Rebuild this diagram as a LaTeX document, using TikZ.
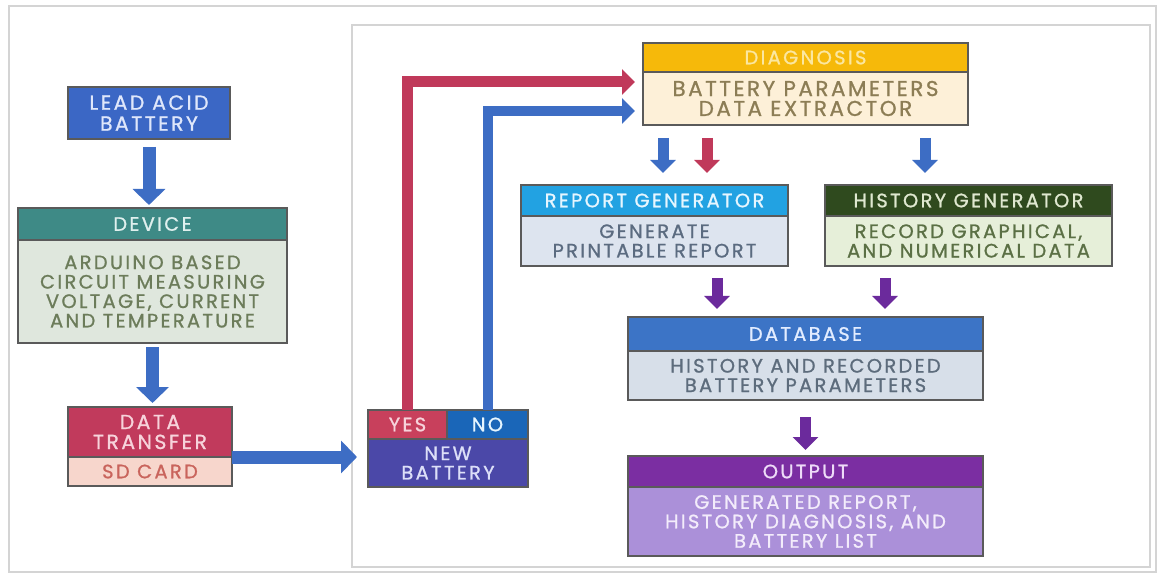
\documentclass[tikz,border=0pt]{standalone}
\usepackage{fontspec}
\setmainfont{Poppins}
\newfontfamily\boxface{Poppins}[LetterSpace=12, FakeBold=1]
\usepackage{tikz}
\usetikzlibrary{arrows.meta, positioning}

\definecolor{framegray}{HTML}{D4D4D4}
\definecolor{edgegray}{HTML}{5A5A5A}
\definecolor{arrowblue}{HTML}{3D6DC4}
\definecolor{arrowred}{HTML}{C0395A}
\definecolor{arrowpurple}{HTML}{6B2A9C}
\definecolor{leadfill}{HTML}{3B67C5}
\definecolor{leadtxt}{HTML}{DFE7FB}
\definecolor{devhfill}{HTML}{3E8A86}
\definecolor{devhtxt}{HTML}{E0F0EE}
\definecolor{devbfill}{HTML}{DFE7DD}
\definecolor{devbtxt}{HTML}{6C7C5A}
\definecolor{dthfill}{HTML}{C13A5C}
\definecolor{dthtxt}{HTML}{F7D3DB}
\definecolor{dtbfill}{HTML}{F7D6CC}
\definecolor{dtbtxt}{HTML}{C9645C}
\definecolor{yesfill}{HTML}{C8405C}
\definecolor{nofill}{HTML}{1A66B8}
\definecolor{nbfill}{HTML}{4B48A8}
\definecolor{nbtxt}{HTML}{DCDFF8}
\definecolor{diaghfill}{HTML}{F6B90A}
\definecolor{diaghtxt}{HTML}{FBE7A0}
\definecolor{diagbfill}{HTML}{FDF0D8}
\definecolor{diagbtxt}{HTML}{8C7D55}
\definecolor{rephfill}{HTML}{22A2E2}
\definecolor{rephtxt}{HTML}{E6F6FF}
\definecolor{repbfill}{HTML}{DDE4EF}
\definecolor{repbtxt}{HTML}{5B6B80}
\definecolor{histhfill}{HTML}{2F4A1E}
\definecolor{histhtxt}{HTML}{DFE8D0}
\definecolor{histbfill}{HTML}{E6EFD9}
\definecolor{histbtxt}{HTML}{5B7045}
\definecolor{dbhfill}{HTML}{3C74C6}
\definecolor{dbhtxt}{HTML}{E2ECFF}
\definecolor{dbbfill}{HTML}{D7DFE9}
\definecolor{dbbtxt}{HTML}{5D6C7C}
\definecolor{outhfill}{HTML}{7B2EA2}
\definecolor{outhtxt}{HTML}{EEDCF8}
\definecolor{outbfill}{HTML}{AB90D9}
\definecolor{outbtxt}{HTML}{F3ECFB}

\newcommand{\boxfont}{\boxface\fontsize{19.5}{19.5}\selectfont}
\newcommand{\bigboxfont}{\boxface\fontsize{21.5}{20}\selectfont}

\begin{document}
\begin{tikzpicture}[
    x=1bp, y=-1bp,
    head/.style={rectangle, draw=edgegray, line width=1.4bp, inner sep=0pt, outer sep=0pt, align=center, font=\boxfont},
    body/.style={head},
    fat/.style={line width=13bp, -{Triangle[width=32bp, length=16bp]}},
    mid/.style={line width=11bp, -{Triangle[width=25bp, length=13bp]}},
]
\useasboundingbox[fill=white] (0,0) rectangle (1158,576);
\draw[framegray, line width=2bp] (9,6) rectangle (1156,572);
\draw[framegray, line width=2bp] (352,25) rectangle (1150,567);

\node[head, fill=leadfill, text=leadtxt, minimum width=162bp, minimum height=52bp, anchor=north west, font=\boxface\fontsize{20.5}{21}\selectfont] (lead) at (68,87) {LEAD ACID\\BATTERY};
\node[head, fill=devhfill, text=devhtxt, minimum width=269bp, minimum height=32bp, anchor=north west] (devhead) at (18,208) {DEVICE};
\node[body, fill=devbfill, text=devbtxt, minimum width=269bp, minimum height=103bp, below=0pt of devhead] (devbody) {ARDUINO BASED\\CIRCUIT MEASURING\\VOLTAGE, CURRENT\\AND TEMPERATURE};
\node[head, fill=dthfill, text=dthtxt, minimum width=164bp, minimum height=50bp, anchor=north west, font=\boxface\fontsize{20.5}{20}\selectfont] (dthead) at (68,407) {DATA\\TRANSFER};
\node[body, fill=dtbfill, text=dtbtxt, minimum width=164bp, minimum height=29bp, below=0pt of dthead] (dtbody) {SD CARD};

\node[head, fill=yesfill, text=dthtxt, minimum width=79bp, minimum height=29bp, anchor=north west] (yes) at (368,410) {YES};
\node[head, fill=nofill, text=rephtxt, minimum width=81bp, minimum height=29bp, right=0pt of yes] (no) {NO};
\node[body, fill=nbfill, text=nbtxt, minimum width=160bp, minimum height=48bp, below right=0pt and 0pt of yes.south west] (nbbody) {NEW\\BATTERY};

\node[head, fill=diaghfill, text=diaghtxt, minimum width=325bp, minimum height=29bp, anchor=north west] (diaghead) at (643,43) {DIAGNOSIS};
\node[body, fill=diagbfill, text=diagbtxt, minimum width=325bp, minimum height=53bp, below=0pt of diaghead, font=\bigboxfont] (diagbody) {BATTERY PARAMETERS\\DATA EXTRACTOR};
\node[head, fill=rephfill, text=rephtxt, minimum width=267bp, minimum height=31bp, anchor=north west] (rephead) at (521,185) {REPORT GENERATOR};
\node[body, fill=repbfill, text=repbtxt, minimum width=267bp, minimum height=50bp, below=0pt of rephead] (repbody) {GENERATE\\PRINTABLE REPORT};
\node[head, fill=histhfill, text=histhtxt, minimum width=287bp, minimum height=31bp, anchor=north west] (histhead) at (825,185) {HISTORY GENERATOR};
\node[body, fill=histbfill, text=histbtxt, minimum width=287bp, minimum height=50bp, below=0pt of histhead] (histbody) {RECORD GRAPHICAL,\\AND NUMERICAL DATA};
\node[head, fill=dbhfill, text=dbhtxt, minimum width=355bp, minimum height=34bp, anchor=north west] (dbhead) at (628,317) {DATABASE};
\node[body, fill=dbbfill, text=dbbtxt, minimum width=355bp, minimum height=49bp, below=0pt of dbhead] (dbbody) {HISTORY AND RECORDED\\BATTERY PARAMETERS};
\node[head, fill=outhfill, text=outhtxt, minimum width=355bp, minimum height=31bp, anchor=north west] (outhead) at (628,456) {OUTPUT};
\node[body, fill=outbfill, text=outbtxt, minimum width=355bp, minimum height=69bp, below=0pt of outhead] (outbody) {GENERATED REPORT,\\HISTORY DIAGNOSIS, AND\\BATTERY LIST};

\draw[fat, arrowblue, shorten <=8bp, shorten >=3bp] (lead.south) -- (lead.south |- devhead.north);
\draw[fat, arrowblue, shorten <=4bp, shorten >=4bp] (devbody.south) -- (devbody.south |- dthead.north);
\draw[fat, arrowblue, shorten >=11bp] (dthead.south east) -- (dthead.south east -| nbbody.west);
\draw[mid, arrowred, shorten >=8bp] (yes.north) |- ([yshift=16.5bp]diagbody.west);
\draw[mid, arrowblue, line width=10bp, shorten >=8bp] (no.north) |- ([yshift=-12.5bp]diagbody.west);
\draw[mid, arrowblue, shorten <=13bp, shorten >=12bp] ([xshift=8.5bp]rephead.north |- diagbody.south) -- ([xshift=8.5bp]rephead.north);
\draw[mid, arrowred, shorten <=13bp, shorten >=12bp] ([xshift=52.5bp]rephead.north |- diagbody.south) -- ([xshift=52.5bp]rephead.north);
\draw[mid, arrowblue, shorten <=13bp, shorten >=12bp] ([xshift=-43.5bp]histhead.north |- diagbody.south) -- ([xshift=-43.5bp]histhead.north);
\draw[mid, arrowpurple, shorten <=12bp, shorten >=8bp] ([xshift=62.5bp]repbody.south) -- ([xshift=62.5bp]repbody.south |- dbhead.north);
\draw[mid, arrowpurple, shorten <=12bp, shorten >=8bp] ([xshift=-83.5bp]histbody.south) -- ([xshift=-83.5bp]histbody.south |- dbhead.north);
\draw[mid, arrowpurple, shorten <=17bp, shorten >=6bp] (dbbody.south) -- (outhead.north);
\end{tikzpicture}
\end{document}
